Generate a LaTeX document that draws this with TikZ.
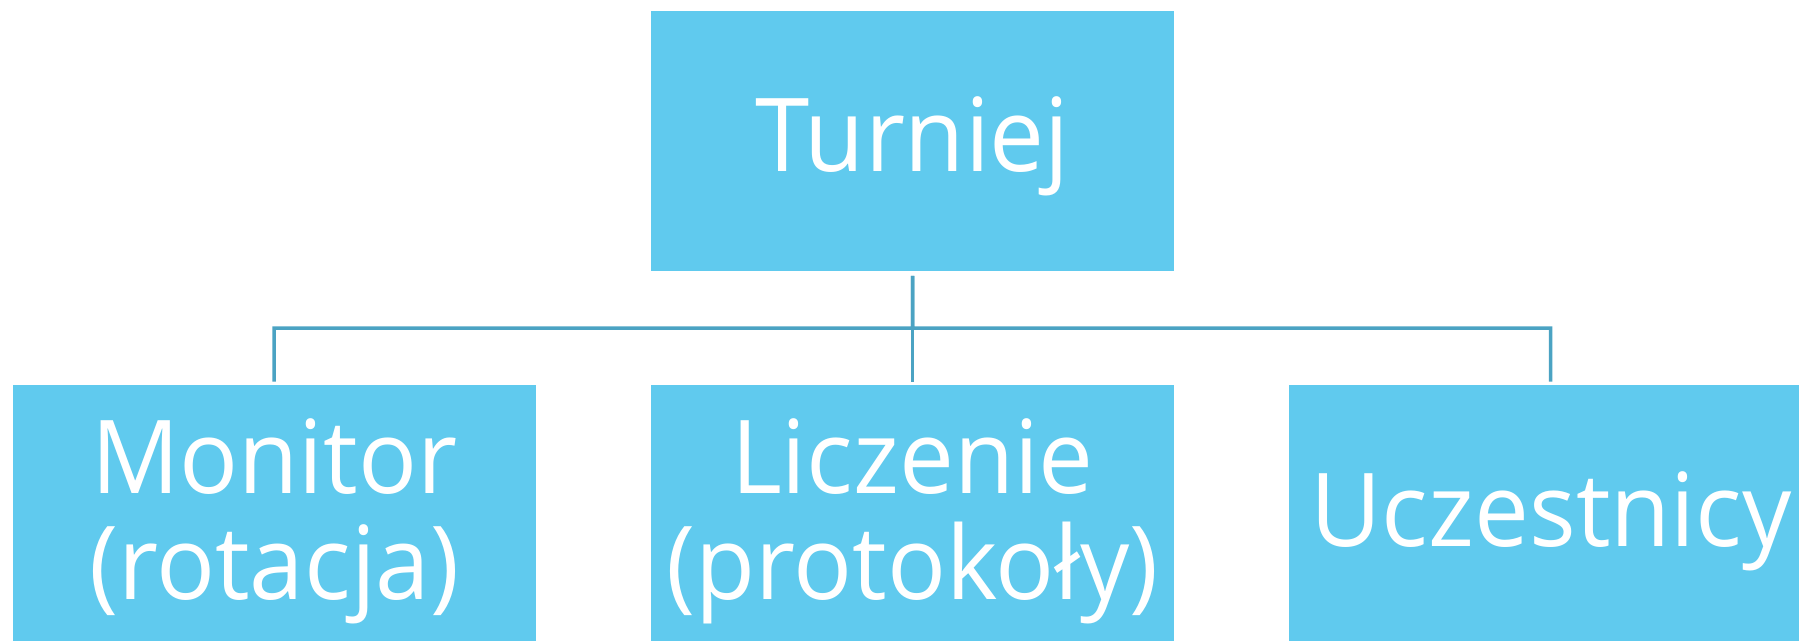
\documentclass[tikz,border=0pt]{standalone}
\usepackage{fontspec}
\newfontfamily\lblfont[FakeStretch=0.96]{Open Sans}
\usetikzlibrary{calc}
\definecolor{boxblue}{HTML}{60CAEE}
\definecolor{linkblue}{HTML}{4BA3C3}
\begin{document}
\begin{tikzpicture}[x=1pt,y=-1pt,
  box/.style={draw=none, fill=boxblue, minimum width=523pt, minimum height=#1, inner sep=0pt, anchor=north west},
  lbl/.style={text=white, font=\lblfont\fontsize{102}{106}\selectfont, anchor=base, inner sep=0pt, align=center},
  link/.style={draw=linkblue, line width=3.5pt, shorten <=4.5pt, shorten >=3.5pt}]
\useasboundingbox (0,0) rectangle (1799,640);
\clip (0,0) rectangle (1799,640);
\node[box=260pt] (top) at (651,11) {};
\node[box=260pt] (left) at (12.5,385) {};
\node[box=260pt] (mid) at (651,385) {};
\node[box=260pt] (right) at (1289,385) {};
\node[lbl] (ttop) at (912.5,171.5) {Turniej};
\node[lbl] (tleft) at (274.25,599) {Monitor\\(rotacja)};
\node[lbl] (tmid) at (912.5,599) {Liczenie\\(protokoły)};
\node[lbl] (tright) at (1551,546) {Uczestnicy};
\coordinate (bar) at ($(top.south)!0.5!(mid.north)$);
\draw[link] (top.south) -- (mid.north);
\draw[link] (top.south) -- (bar) -| (left.north);
\draw[link] (top.south) -- (bar) -| (right.north);
\end{tikzpicture}
\end{document}
